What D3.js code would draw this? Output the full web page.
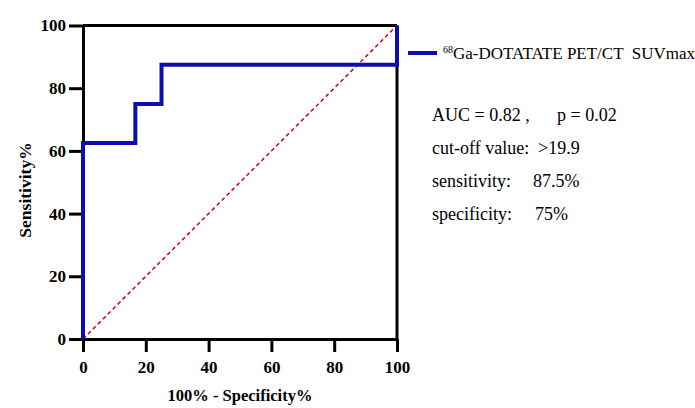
<!DOCTYPE html>
<html><head><meta charset="utf-8">
<script src="https://cdn.jsdelivr.net/npm/d3@7"></script>
<style>body{margin:0;background:#fff}</style>
</head><body>
<svg id="c" width="695" height="408"></svg>
<script>
const rocX = [0, 0, 16.67, 16.67, 25, 25, 100, 100];
const rocY = [0, 62.5, 62.5, 75, 75, 87.5, 87.5, 100];
const refX = [0, 100];
const refY = [0, 100];
const xTicks = [0, 20, 40, 60, 80, 100];
const yTicks = [0, 20, 40, 60, 80, 100];
const legendLabel = ["68", "Ga-DOTATATE PET/CT  SUVmax"];
const noteLabels = ["AUC = 0.82 ,", "cut-off value:", "sensitivity:", "specificity:"];
const noteValues = ["p = 0.02", ">19.9", "87.5%", "75%"];

const FONT = '"Liberation Serif", "Times New Roman", monospace';
const svg = d3.select("#c");
const L = 83, R = 397, T = 25.5, B = 339;
const x = d3.scaleLinear().domain([0, 100]).range([L, R]);
const y = d3.scaleLinear().domain([0, 100]).range([B, T]);

svg.append("line").attr("x1", L).attr("x2", R).attr("y1", T).attr("y2", T).attr("stroke", "#000").attr("stroke-width", 3);
svg.append("line").attr("x1", R).attr("x2", R).attr("y1", T).attr("y2", B).attr("stroke", "#000").attr("stroke-width", 3);

const xa = svg.append("g").attr("transform", `translate(0,${B})`)
  .call(d3.axisBottom(x).tickValues(xTicks).tickSize(13).tickSizeOuter(0).tickPadding(9));
const ya = svg.append("g").attr("transform", `translate(${L},0)`)
  .call(d3.axisLeft(y).tickValues(yTicks).tickSize(14).tickSizeOuter(0).tickPadding(3));
[xa, ya].forEach(a => {
  a.attr("font-family", null).attr("font-size", null);
  a.select(".domain").attr("stroke", "#000").attr("stroke-width", 3);
  a.selectAll(".tick line").attr("stroke", "#000").attr("stroke-width", 3);
  a.selectAll("text").style("font-family", FONT).style("font-weight", "bold").style("font-size", "17px").attr("fill", "#000");
});

svg.append("path")
  .attr("d", d3.line()(refX.map((v, i) => [x(v), y(refY[i])])))
  .attr("stroke", "#c0142e").attr("stroke-width", 1.6).attr("stroke-dasharray", "4,3").attr("fill", "none");

svg.append("path")
  .attr("d", d3.line()(rocX.map((v, i) => [x(v), y(rocY[i])])))
  .attr("stroke", "#0a10b0").attr("stroke-width", 4).attr("fill", "none").attr("stroke-linejoin", "miter");

svg.append("text").attr("x", 240).attr("y", 401).attr("text-anchor", "middle")
  .style("font-family", FONT).style("font-weight", "bold").style("font-size", "16.5px").text("100% - Specificity%");
svg.append("text").attr("transform", `translate(31,190) rotate(-90)`).attr("text-anchor", "middle")
  .style("font-family", FONT).style("font-weight", "bold").style("font-size", "17.5px").text("Sensitivity%");

svg.append("line").attr("x1", 408).attr("x2", 437).attr("y1", 53).attr("y2", 53).attr("stroke", "#0a10b0").attr("stroke-width", 4);
const lt = svg.append("text").attr("x", 443).attr("y", 59).style("font-family", FONT).style("font-size", "17px").attr("fill", "#000").style("white-space", "pre");
lt.append("tspan").style("font-size", "10px").attr("dy", -6).text(legendLabel[0]);
lt.append("tspan").attr("dy", 6).text(legendLabel[1]);

const valueX = [557, 538, 533, 535];
const notes = svg.selectAll("g.note").data(noteLabels).join("g").attr("class", "note");
notes.append("text").attr("x", 432).attr("y", (d, i) => 121 + i * 33)
  .style("font-family", FONT).style("font-size", "18px").attr("fill", "#000").text(d => d);
notes.append("text").attr("x", (d, i) => valueX[i]).attr("y", (d, i) => 121 + i * 33)
  .style("font-family", FONT).style("font-size", "18px").attr("fill", "#000").text((d, i) => noteValues[i]);
</script>
</body></html>
